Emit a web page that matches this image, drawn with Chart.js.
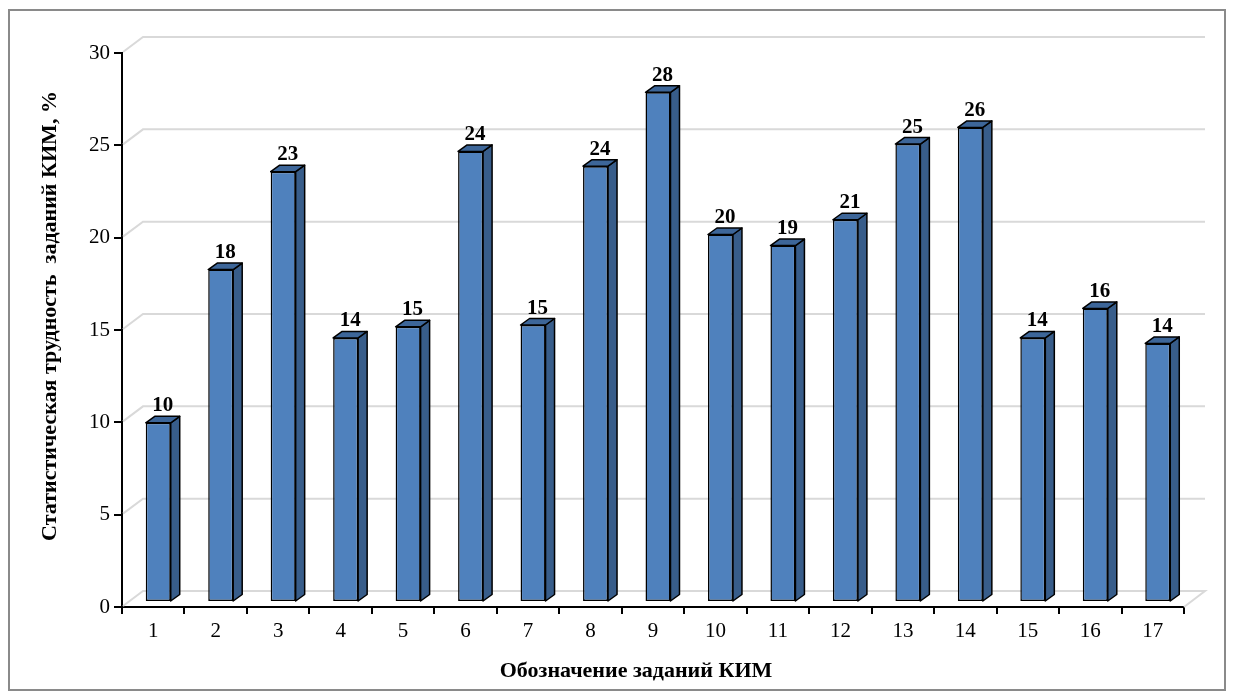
<!DOCTYPE html>
<html>
<head>
<meta charset="utf-8">
<script src="https://cdn.jsdelivr.net/npm/chart.js@4"></script>
<style>
  html, body { margin: 0; padding: 0; background: #fff; }
  canvas { display: block; }
</style>
</head>
<body>
<canvas id="kimChart" width="1234" height="696"></canvas>
<script>
const categories = ['1', '2', '3', '4', '5', '6', '7', '8', '9', '10', '11', '12', '13', '14', '15', '16', '17'];
const difficulty = [9.7, 18.0, 23.3, 14.3, 14.9, 24.4, 15.0, 23.6, 27.6, 19.9, 19.3, 20.7, 24.8, 25.7, 14.3, 15.9, 14.0];
const yTicks = [0, 5, 10, 15, 20, 25, 30];

const yTitle = 'Статистическая трудность  заданий КИМ, %';
const xTitle = 'Обозначение заданий КИМ';

// 3d look: back wall offset and bar depth
const wallDx = 21, wallDy = -16;
const barShiftX = 5, barShiftY = -5;
const depthX = 9, depthY = -6.5;

const fakeDepth = {
    id: 'fakeDepth',
    beforeDraw(chart) {
        const ctx = chart.ctx;
        ctx.save();
        ctx.strokeStyle = '#8a8a8a';
        ctx.lineWidth = 2;
        ctx.strokeRect(9, 10, 1216, 680);
        ctx.restore();
    },
    beforeDatasetsDraw(chart) {
        const ctx = chart.ctx;
        const area = chart.chartArea;
        const y = chart.scales.y;
        ctx.save();
        ctx.strokeStyle = '#d9d9d9';
        ctx.lineWidth = 2;
        yTicks.forEach(v => {
            const py = y.getPixelForValue(v);
            ctx.beginPath();
            ctx.moveTo(area.left + 1, py - 1);
            ctx.lineTo(area.left + wallDx, py + wallDy);
            ctx.lineTo(area.right + wallDx, py + wallDy);
            if (v === 0) ctx.lineTo(area.right, py);
            ctx.stroke();
        });
        ctx.restore();
        // titles
        ctx.save();
        ctx.fillStyle = '#000';
        ctx.textAlign = 'center';
        ctx.textBaseline = 'middle';
        ctx.font = 'bold 22px "Liberation Serif", "Times New Roman", serif';
        ctx.fillText(xTitle, 636, 671);
        ctx.translate(50, 316);
        ctx.rotate(-Math.PI / 2);
        ctx.fillText(yTitle, 0, 0);
        ctx.restore();

        ctx.save();
        ctx.translate(barShiftX, barShiftY);
    },
    afterDatasetsDraw(chart) {
        const ctx = chart.ctx;
        const meta = chart.getDatasetMeta(0);
        meta.data.forEach((bar, i) => {
            const half = bar.width / 2;
            const l = bar.x - half, r = bar.x + half;
            const t = bar.y, b = bar.base;
            ctx.lineWidth = 1.5;
            ctx.strokeStyle = '#000';
            ctx.lineJoin = 'round';
            // side
            ctx.beginPath();
            ctx.moveTo(r, t);
            ctx.lineTo(r + depthX, t + depthY);
            ctx.lineTo(r + depthX, b + depthY);
            ctx.lineTo(r, b);
            ctx.closePath();
            ctx.fillStyle = '#385d8a';
            ctx.fill();
            ctx.stroke();
            // top
            ctx.beginPath();
            ctx.moveTo(l, t);
            ctx.lineTo(l + depthX, t + depthY);
            ctx.lineTo(r + depthX, t + depthY);
            ctx.lineTo(r, t);
            ctx.closePath();
            ctx.fillStyle = '#3d6699';
            ctx.fill();
            ctx.stroke();
            // value label
            ctx.fillStyle = '#000';
            ctx.font = 'bold 21px "Liberation Serif", "Times New Roman", serif';
            ctx.textAlign = 'center';
            ctx.textBaseline = 'alphabetic';
            ctx.fillText(String(Math.round(difficulty[i])), bar.x + depthX / 2, t + depthY - 5);
        });
        ctx.restore();
    }
};

const ctx = document.getElementById('kimChart').getContext('2d');
new Chart(ctx, {
    type: 'bar',
    data: {
        labels: categories,
        datasets: [{
            data: difficulty,
            backgroundColor: '#4f81bd',
            borderColor: '#000',
            borderWidth: 1.5,
            borderSkipped: false,
            barPercentage: 0.4,
            categoryPercentage: 1.0
        }]
    },
    options: {
        responsive: false,
        animation: false,
        devicePixelRatio: 1,
        layout: { padding: { top: 53, right: 50, left: 0, bottom: 0 } },
        plugins: {
            legend: { display: false },
            tooltip: { enabled: false }
        },
        scales: {
            x: {
                offset: true,
                afterFit(scale) { scale.height = 89; },
                grid: {
                    offset: true,
                    drawOnChartArea: false,
                    tickLength: 7,
                    color: '#000',
                    lineWidth: 2
                },
                border: { color: '#000', width: 2 },
                ticks: {
                    color: '#000',
                    padding: 5,
                    font: { family: '"Liberation Serif", "Times New Roman", serif', size: 21 }
                }
            },
            y: {
                min: 0,
                max: 30,
                afterFit(scale) { scale.width = 122; },
                grid: {
                    drawOnChartArea: false,
                    tickLength: 8,
                    color: '#000',
                    lineWidth: 2
                },
                border: { color: '#000', width: 2 },
                ticks: {
                    stepSize: 5,
                    color: '#000',
                    padding: 4,
                    font: { family: '"Liberation Serif", "Times New Roman", serif', size: 21 }
                }
            }
        }
    },
    plugins: [fakeDepth]
});
</script>
</body>
</html>
